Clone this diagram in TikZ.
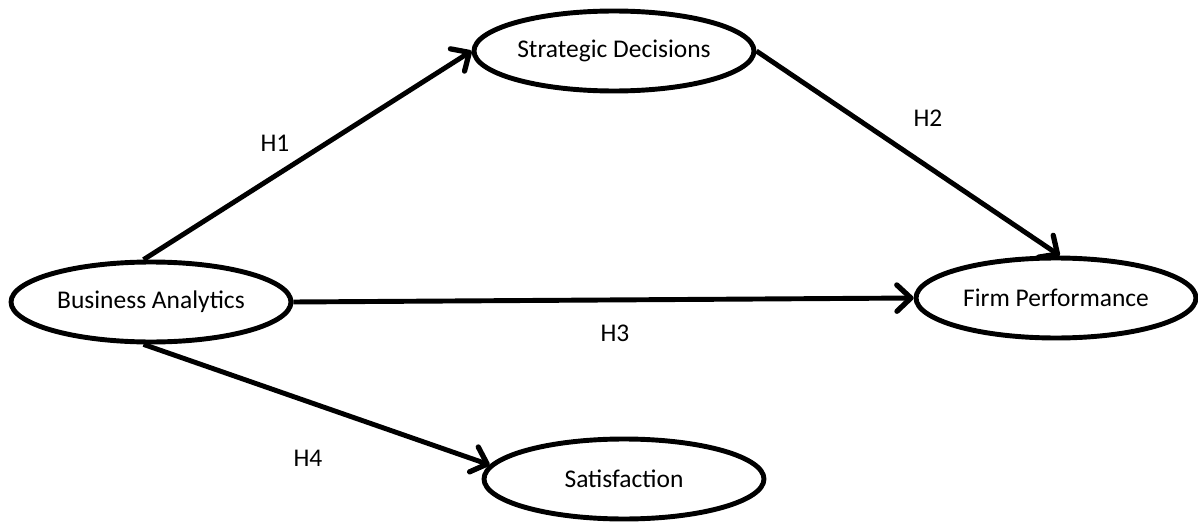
\documentclass[tikz,border=0pt]{standalone}
\usepackage{fontspec}
\setmainfont{Carlito}
\usetikzlibrary{shapes.geometric,arrows.meta}
\begin{document}
\begin{tikzpicture}[x=0.02cm,y=-0.02cm,
  construct/.style={ellipse,draw,line width=2.8pt,minimum width=5.6cm,minimum height=1.6cm,inner sep=0pt,font=\fontsize{14.5}{17}\selectfont},
  path/.style={line width=2.8pt,-{Straight Barb[length=8pt,width=15pt,line width=3pt,round]}},
  hyp/.style={font=\fontsize{14.5}{17}\selectfont}]
\useasboundingbox (0,0) rectangle (1198,524);
% constructs
\node[construct] (ba) at (151,302) {Business Analytics};
\node[construct] (sd) at (614,51) {Strategic Decisions};
\node[construct] (fp) at (1056,298) {Firm Performance};
\node[construct] (sat) at (624,479) {Satisfaction};
% hypothesised paths
\draw[path] (ba.100) -- (sd.west);
\draw[path] (sd.east) -- (fp.85);
\draw[path] (ba.east) -- (fp.west);
\draw[path] (ba.260) -- (sat.174);
\node[hyp] (h1) at (275,143) {H1};
\node[hyp] (h2) at (928,118) {H2};
\node[hyp] (h3) at (615,333) {H3};
\node[hyp] (h4) at (308,458) {H4};
\end{tikzpicture}
\end{document}
